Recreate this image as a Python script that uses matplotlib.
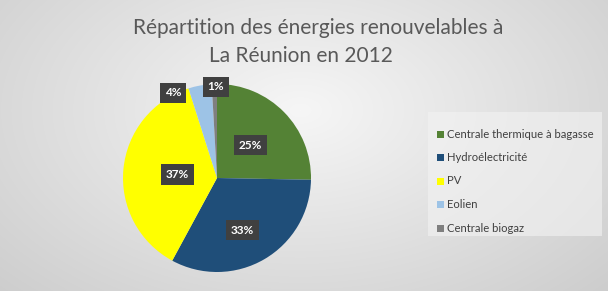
import numpy as np
import matplotlib.pyplot as plt
from matplotlib.patches import Rectangle

# données
categories = ['Centrale thermique à bagasse', 'Hydroélectricité', 'PV', 'Eolien', 'Centrale biogaz']
values = [25.3, 32.6, 37.2, 4.0, 0.9]
labels = ['25%', '33%', '37%', '4%', '1%']
colors = ['#548235', '#1f4e79', '#ffff00', '#9dc3e6', '#7f7f7f']

plt.rcParams['font.family'] = ['Lato', 'DejaVu Sans']

W, H = 608, 291
fig = plt.figure(figsize=(W / 100, H / 100), dpi=100)

# fond dégradé radial
bg = fig.add_axes([0, 0, 1, 1])
yy, xx = np.mgrid[0:H, 0:W]
d = np.sqrt(((xx - 300) / 420.0) ** 2 + ((yy - 110) / 260.0) ** 2)
g = np.clip(0.965 - 0.16 * d, 0, 1)
bg.imshow(np.dstack([g, g, g]), extent=[0, W, H, 0], aspect='auto')
bg.set_xlim(0, W)
bg.set_ylim(H, 0)
bg.axis('off')
bg.add_patch(Rectangle((428, 112), 174, 124, facecolor='#f3f3f3', edgecolor='none', alpha=0.6))

# titre
bg.text(318, 28, 'Répartition des énergies renouvelables à',
        ha='center', va='center', fontsize=15, color='#595959')
bg.text(301, 56, 'La Réunion en 2012', ha='center', va='center', fontsize=15, color='#595959')

# camembert
cx, cy, r = 217, 178, 94
ax = fig.add_axes([(cx - r) / W, (H - cy - r) / H, 2 * r / W, 2 * r / H])
wedges, _ = ax.pie(values, colors=colors, startangle=90, counterclock=False, radius=1)
ax.set_xlim(-1, 1)
ax.set_ylim(-1, 1)
ax.set_aspect('auto')
ax.axis('off')

label_r = [0.5, 0.62, 0.42, 1.02, 0.97]
label_shift = [0, -4, 0, 17, -1]
cum = np.cumsum([0] + values[:-1])
total = sum(values)
for i, lab in enumerate(labels):
    ang = np.deg2rad(90 - (cum[i] + values[i] / 2) / total * 360 + label_shift[i])
    ax.text(label_r[i] * np.cos(ang), label_r[i] * np.sin(ang), lab, ha='center', va='center',
            fontsize=8.5, fontweight='bold', color='white', clip_on=False,
            bbox=dict(boxstyle='square,pad=0.4', facecolor='#404040', edgecolor='none'))

# légende
for i, name in enumerate(categories):
    y = 134 + i * 23.5
    bg.add_patch(Rectangle((437, y - 3.5), 7, 7, facecolor=colors[i], edgecolor='none'))
    bg.text(447, y, name, ha='left', va='center', fontsize=8.1, color='#404040')

fig.savefig('out.png', dpi=100)
